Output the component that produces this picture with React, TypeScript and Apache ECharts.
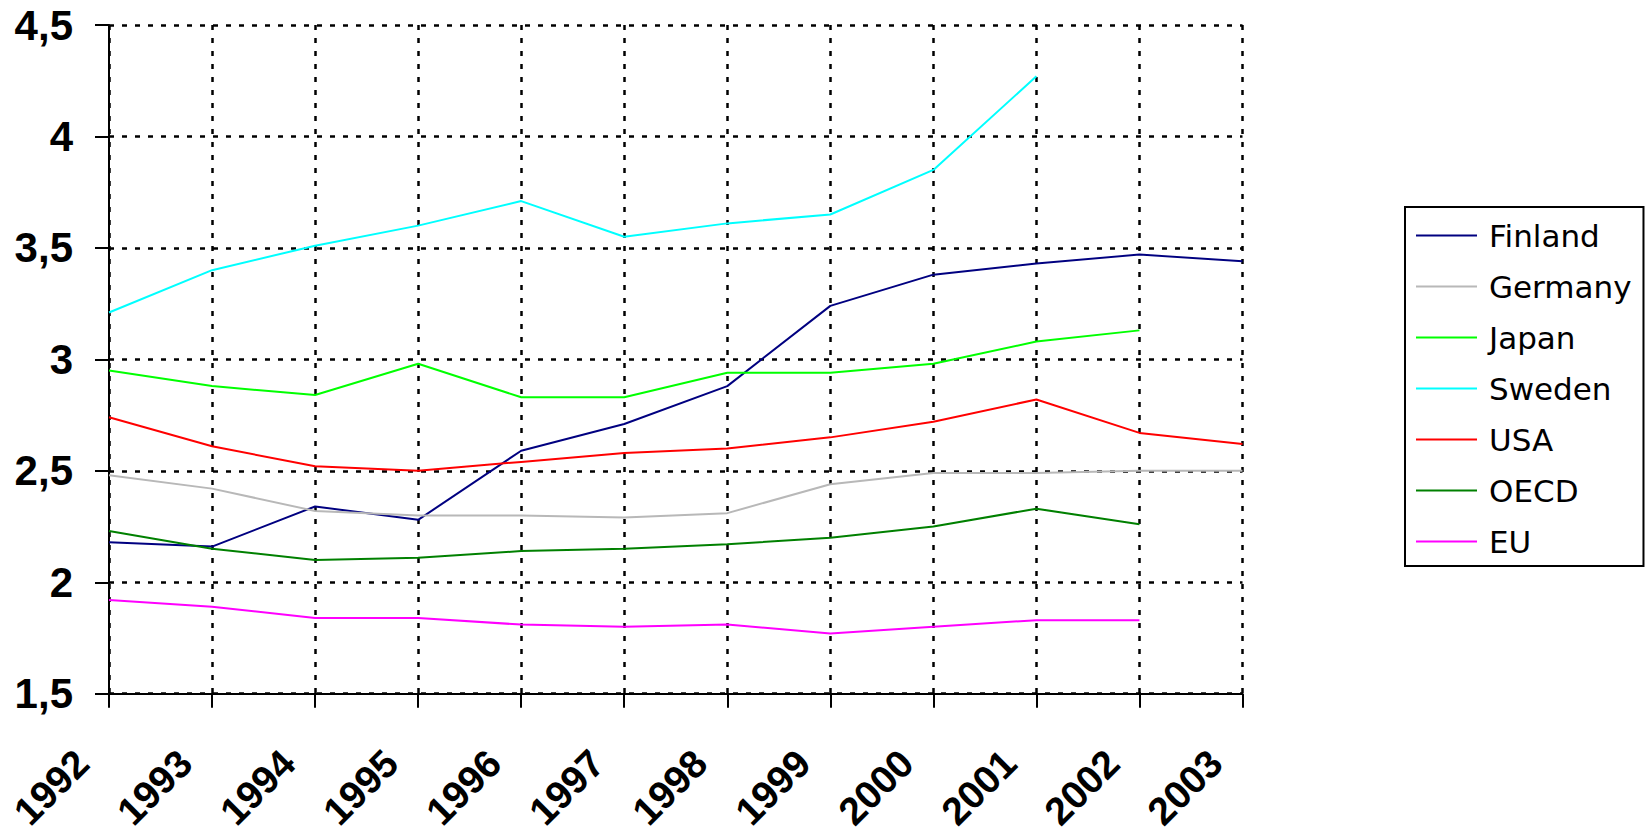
import React, { useEffect, useRef } from "react";
import * as echarts from "echarts";

const years = ["1992", "1993", "1994", "1995", "1996", "1997", "1998", "1999", "2000", "2001", "2002", "2003"];
const finland = [2.18, 2.16, 2.34, 2.28, 2.59, 2.71, 2.88, 3.24, 3.38, 3.43, 3.47, 3.44];
const germany = [2.48, 2.42, 2.32, 2.3, 2.3, 2.29, 2.31, 2.44, 2.49, 2.49, 2.5, 2.5];
const japan = [2.95, 2.88, 2.84, 2.98, 2.83, 2.83, 2.94, 2.94, 2.98, 3.08, 3.13, null];
const sweden = [3.21, 3.4, 3.51, 3.6, 3.71, 3.55, 3.61, 3.65, 3.85, 4.27, null, null];
const usa = [2.74, 2.61, 2.52, 2.5, 2.54, 2.58, 2.6, 2.65, 2.72, 2.82, 2.67, 2.62];
const oecd = [2.23, 2.15, 2.1, 2.11, 2.14, 2.15, 2.17, 2.2, 2.25, 2.33, 2.26, null];
const eu = [1.92, 1.89, 1.84, 1.84, 1.81, 1.8, 1.81, 1.77, 1.8, 1.83, 1.83, null];

const seriesDefs = [
  { name: "Finland", data: finland, color: "#000080" },
  { name: "Germany", data: germany, color: "#B8B8B8" },
  { name: "Japan", data: japan, color: "#00FF00" },
  { name: "Sweden", data: sweden, color: "#00FFFF" },
  { name: "USA", data: usa, color: "#FF0000" },
  { name: "OECD", data: oecd, color: "#008000" },
  { name: "EU", data: eu, color: "#FF00FF" },
];

export default function App() {
  const ref = useRef<HTMLDivElement>(null);
  useEffect(() => {
    if (!ref.current) return;
    const chart = echarts.init(ref.current, undefined, { renderer: "svg" });
    chart.setOption({
      animation: false,
      backgroundColor: "#ffffff",
      grid: {
        left: 109,
        top: 25,
        width: 1133.5,
        height: 668.7,
        containLabel: false,
        outerBoundsMode: "none",
      },
      legend: {
        orient: "vertical",
        left: 1405,
        top: 207,
        padding: [13, 12, 9, 11],
        itemGap: 20,
        itemWidth: 61,
        itemHeight: 2,
        icon: "rect",
        borderColor: "#000000",
        borderWidth: 2,
        textStyle: {
          fontFamily: "DejaVu Sans",
          fontSize: 31,
          lineHeight: 31,
          color: "#000000",
          padding: [0, 0, 0, 7],
        },
        data: seriesDefs.map((s) => s.name),
      },
      xAxis: {
        type: "category",
        data: years,
        boundaryGap: false,
        axisLine: { show: true, lineStyle: { color: "#000000", width: 2 } },
        axisTick: { show: true, length: 14, lineStyle: { color: "#000000", width: 2 } },
        axisLabel: {
          rotate: 45,
          interval: 0,
          margin: 36,
          padding: [0, 38, 0, 0],
          fontFamily: "Liberation Sans",
          fontWeight: "bold",
          fontSize: 39,
          lineHeight: 39,
          color: "#000000",
        },
        splitLine: {
          show: true,
          lineStyle: { color: "#000000", width: 2.5, type: [5, 8] },
        },
      },
      yAxis: {
        type: "value",
        min: 1.5,
        max: 4.5,
        interval: 0.5,
        axisLine: { show: true, lineStyle: { color: "#000000", width: 2 } },
        axisTick: { show: true, length: 14, lineStyle: { color: "#000000", width: 2 } },
        axisLabel: {
          margin: 36,
          fontFamily: "Liberation Sans",
          fontWeight: "bold",
          fontSize: 42,
          color: "#000000",
          formatter: (v: number) => String(v).replace(".", ","),
        },
        splitLine: {
          show: true,
          lineStyle: { color: "#000000", width: 2.5, type: [5, 8] },
        },
      },
      series: seriesDefs.map((s) => ({
        name: s.name,
        type: "line",
        data: s.data,
        symbol: "none",
        connectNulls: false,
        color: s.color,
        lineStyle: { color: s.color, width: 2 },
        itemStyle: { color: s.color },
      })),
    });
    return () => chart.dispose();
  }, []);
  return (
    <div
      ref={ref}
      style={{ position: "fixed", left: 0, top: 0, width: 1647, height: 833, background: "#fff" }}
    />
  );
}
